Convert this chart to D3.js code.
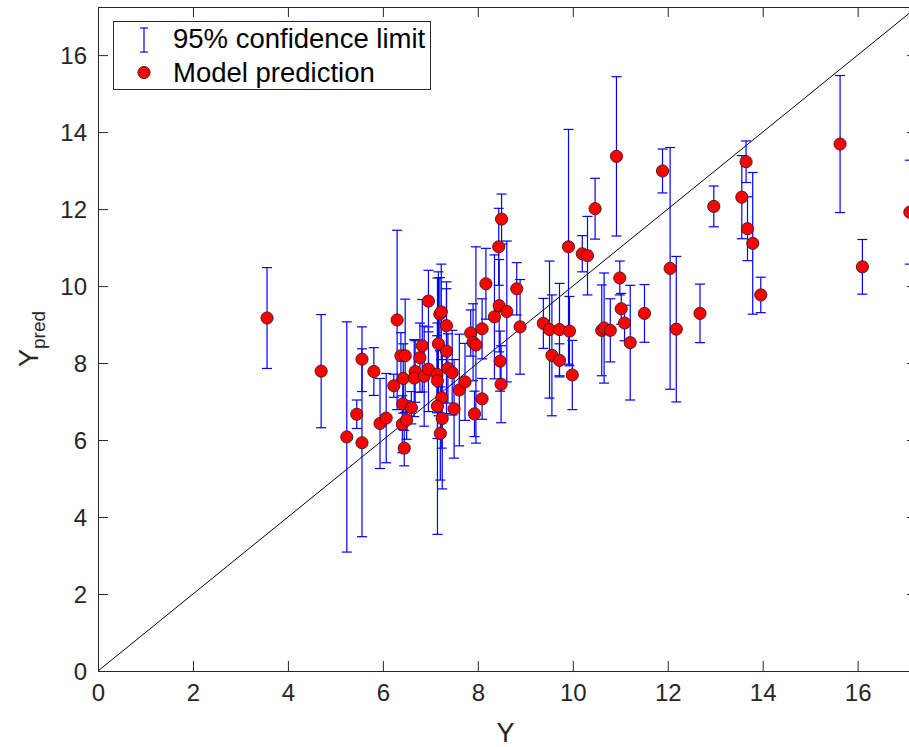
<!DOCTYPE html>
<html><head><meta charset="utf-8">
<script src="https://cdn.jsdelivr.net/npm/d3@7"></script>
<style>body{margin:0;background:#fff}svg{display:block}</style>
</head><body>
<script>
// Observed Y values
const yObs = [3.56,4.70,5.24,5.45,5.56,5.56,5.81,5.94,6.07,6.23,6.30,6.38,6.47,6.43,6.42,6.41,6.50,6.45,6.60,6.68,
  6.66,6.78,6.83,6.96,6.87,6.96,7.17,7.20,7.23,7.34,7.14,7.15,7.34,7.37,7.46,7.24,7.15,7.25,7.21,7.50,
  7.61,7.73,7.85,7.90,7.96,8.09,8.17,8.35,8.45,8.61,8.44,8.50,8.89,8.82,8.47,8.49,8.09,7.93,9.38,9.51,
  9.72,9.93,9.91,9.56,9.72,9.99,10.20,10.31,10.92,11.89,10.47,12.97,13.56,12.05,10.99,11.02,11.09,11.51,12.68,11.21,
  12.18,10.61,10.66,10.79,15.63,13.65,13.68,13.79,13.96,16.10,17.10];
// Model predictions
const yPred = [9.17,7.79,6.08,6.67,5.93,8.10,7.78,6.43,6.57,7.41,9.12,8.19,8.19,7.60,6.94,6.41,6.52,5.79,6.84,7.78,
  7.61,8.14,8.45,9.61,7.66,7.84,8.50,9.27,9.33,8.97,7.71,7.54,8.31,7.86,7.75,7.10,6.88,6.56,6.17,6.81,
  7.30,7.51,8.78,8.54,8.47,8.89,10.06,9.20,9.49,9.34,11.02,11.74,8.94,9.93,8.05,7.45,7.07,6.68,9.03,8.87,
  8.87,8.83,11.02,8.20,8.07,7.69,10.84,10.79,13.37,12.99,12.01,12.07,12.31,10.46,10.21,9.41,9.04,9.29,9.29,8.53,
  8.88,8.85,8.91,8.85,13.69,13.23,11.49,11.11,9.77,10.50,11.92];
// 95% confidence half-widths
const ciHalf = [1.31,1.47,2.99,0.37,2.44,0.84,0.62,1.17,1.16,0.30,2.33,0.60,1.47,0.90,0.66,0.74,0.50,0.46,0.42,0.80,
  1.00,0.90,1.20,0.80,1.30,1.10,1.87,0.95,1.24,1.14,1.00,1.50,1.62,0.90,1.10,1.31,3.33,1.83,1.21,1.28,
  1.45,1.00,0.60,1.00,2.55,0.78,0.92,1.61,1.20,1.83,1.00,0.65,1.23,0.68,0.78,1.00,0.53,0.59,0.65,1.78,
  1.20,0.90,3.05,1.57,0.43,0.90,0.47,1.02,2.07,0.57,0.79,0.53,1.08,3.14,0.44,0.40,0.46,0.75,0.76,1.49,
  1.89,1.18,1.43,0.82,1.78,0.54,0.83,1.84,0.46,0.71,1.35];
const xTicks = [0,2,4,6,8,10,12,14,16];
const yTicks = [0,2,4,6,8,10,12,14,16];
const axisMax = 17.25;
const legendLabels = ["95% confidence limit","Model prediction"];

const W = 909, H = 747;
const mL = 98, mR = 917, mT = 7, mB = 671;
const svg = d3.select("body").append("svg").attr("width", W).attr("height", H)
  .style("font-family", "Arial, 'Liberation Sans', sans-serif");

const x = d3.scaleLinear().domain([0, axisMax]).range([mL, mR]);
const y = d3.scaleLinear().domain([0, axisMax]).range([mB, mT]);

const data = yObs.map((v, i) => ({x: v, y: yPred[i], lo: yPred[i] - ciHalf[i], hi: yPred[i] + ciHalf[i]}));

// diagonal
svg.append("line").attr("x1", x(0)).attr("y1", y(0)).attr("x2", x(axisMax)).attr("y2", y(axisMax))
  .attr("stroke", "#000").attr("stroke-width", 1);

// error bars
const eb = svg.append("g").attr("stroke", "#0000ff").attr("stroke-width", 1.2).attr("fill", "none");
const capW = 5;
data.forEach(d => {
  const g = eb.append("g");
  g.append("line").attr("x1", x(d.x)).attr("x2", x(d.x)).attr("y1", y(d.lo)).attr("y2", y(d.hi));
  g.append("line").attr("x1", x(d.x) - capW).attr("x2", x(d.x) + capW).attr("y1", y(d.lo)).attr("y2", y(d.lo));
  g.append("line").attr("x1", x(d.x) - capW).attr("x2", x(d.x) + capW).attr("y1", y(d.hi)).attr("y2", y(d.hi));
});

// points
const rPt = 6.1;
svg.append("g").selectAll("circle").data(data).join("circle")
  .attr("cx", d => x(d.x)).attr("cy", d => y(d.y)).attr("r", rPt)
  .attr("fill", "#ff0000").attr("stroke", "#3a1a1a").attr("stroke-width", 0.9);

// axes box
const axColor = "#262626";
const fs = 24;
const xAxisB = d3.axisBottom(x).tickValues(xTicks).tickSizeInner(-10).tickSizeOuter(0).tickPadding(13);
const gx = svg.append("g").attr("transform", `translate(0,${mB})`).call(xAxisB);
const xAxisT = d3.axisTop(x).tickValues(xTicks).tickSizeInner(-10).tickSizeOuter(0).tickFormat("");
const gxt = svg.append("g").attr("transform", `translate(0,${mT})`).call(xAxisT);
const yAxisL = d3.axisLeft(y).tickValues(yTicks).tickSizeInner(-10).tickSizeOuter(0).tickPadding(11);
const gy = svg.append("g").attr("transform", `translate(${mL},0)`).call(yAxisL);
const yAxisR = d3.axisRight(y).tickValues(yTicks).tickSizeInner(-10).tickSizeOuter(0).tickFormat("");
const gyr = svg.append("g").attr("transform", `translate(${mR},0)`).call(yAxisR);
[gx, gxt, gy, gyr].forEach(g => {
  g.select(".domain").attr("stroke", axColor);
  g.selectAll(".tick line").attr("stroke", axColor);
  g.selectAll("text").attr("fill", axColor).style("font-size", fs + "px").style("font-family", "Arial, 'Liberation Sans', sans-serif");
});
gx.selectAll(".tick text").attr("dy", "0.71em");
gy.selectAll(".tick text").attr("dy", "0.36em");

// axis labels
svg.append("text").attr("x", (mL + mR) / 2 - 2).attr("y", 742).attr("text-anchor", "middle")
  .attr("fill", axColor).style("font-size", "27px").text("Y");
const yl = svg.append("text").attr("transform", `translate(38,${(mT + mB) / 2}) rotate(-90)`)
  .attr("text-anchor", "middle").attr("fill", axColor).style("font-size", "27px");
yl.append("tspan").text("Y");
yl.append("tspan").attr("dy", 7).style("font-size", "19px").text("pred");

// legend
const lg = svg.append("g");
lg.append("rect").attr("x", 113.5).attr("y", 21.5).attr("width", 317).attr("height", 68)
  .attr("fill", "#fff").attr("stroke", axColor).attr("stroke-width", 1);
const li = lg.append("g").attr("stroke", "#0000ff").attr("stroke-width", 1.2);
li.append("line").attr("x1", 144).attr("x2", 144).attr("y1", 28).attr("y2", 52);
li.append("line").attr("x1", 140).attr("x2", 148).attr("y1", 28).attr("y2", 28);
li.append("line").attr("x1", 140).attr("x2", 148).attr("y1", 52).attr("y2", 52);
lg.append("circle").attr("cx", 144).attr("cy", 72.5).attr("r", rPt).attr("fill", "#ff0000")
  .attr("stroke", "#3a1a1a").attr("stroke-width", 0.9);
lg.selectAll("text.lt").data(legendLabels).join("text").attr("class", "lt")
  .attr("x", 173).attr("y", (d, i) => 48 + i * 34).attr("fill", "#000").style("font-size", "27.5px").text(d => d);
</script>
</body></html>
